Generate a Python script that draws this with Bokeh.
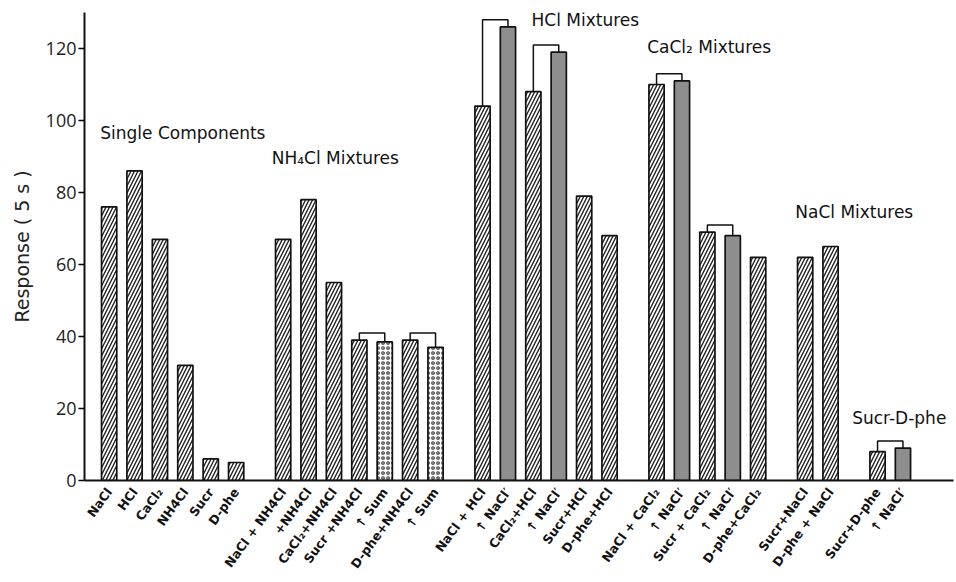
from bokeh.plotting import figure
from bokeh.models import ColumnDataSource, FixedTicker, Range1d, Label
from bokeh.embed import file_html
from bokeh.resources import INLINE

# ---- data -----------------------------------------------------------------
group_titles = ["Single Components", "NH₄Cl Mixtures", "HCl Mixtures",
                "CaCl₂ Mixtures", "NaCl Mixtures", "Sucr-D-phe"]

single_labels = ["NaCl", "HCl", "CaCl₂", "NH4Cl", "Sucr", "D-phe"]
single_values = [76, 86, 67, 32, 6, 5]
single_kinds = ["obs", "obs", "obs", "obs", "obs", "obs"]

nh4cl_labels = ["NaCl + NH4Cl", "+NH4Cl", "CaCl₂+NH4Cl", "Sucr +NH4Cl",
                "↑ Sum", "D-phe+NH4Cl", "↑ Sum"]
nh4cl_values = [67, 78, 55, 39, 38.5, 39, 37]
nh4cl_kinds = ["obs", "obs", "obs", "obs", "sum", "obs", "sum"]

hcl_labels = ["NaCl + HCl", "↑ NaCl′", "CaCl₂+HCl", "↑ NaCl′",
              "Sucr+HCl", "D-phe+HCl"]
hcl_values = [104, 126, 108, 119, 79, 68]
hcl_kinds = ["obs", "pred", "obs", "pred", "obs", "obs"]

cacl2_labels = ["NaCl + CaCl₂", "↑ NaCl′", "Sucr + CaCl₂", "↑ NaCl′",
                "D-phe+CaCl₂"]
cacl2_values = [110, 111, 69, 68, 62]
cacl2_kinds = ["obs", "pred", "obs", "pred", "obs"]

nacl_labels = ["Sucr+NaCl", "D-phe + NaCl"]
nacl_values = [62, 65]
nacl_kinds = ["obs", "obs"]

sd_labels = ["Sucr+D-phe", "↑ NaCl′"]
sd_values = [8, 9]
sd_kinds = ["obs", "pred"]

y_ticks = [0, 20, 40, 60, 80, 100, 120]

# ---- layout settings --------------------------------------------------------
SLOT = 20          # distance between neighbouring bars
GROUP_STEP = 37    # distance between last bar of a group and first of the next
BAR_W = 12
BRACKET_GAP = 2    # how far a bracket rises above the taller bar
# title placement: offset from first bar (in slots) and height (response units)
title_dx = [-0.35, -0.45, 1.93, -0.37, -0.39, -1.0]
title_y = [96.5, 89.5, 128.0, 120.5, 74.5, 17.5]

groups = [
    (single_labels, single_values, single_kinds),
    (nh4cl_labels, nh4cl_values, nh4cl_kinds),
    (hcl_labels, hcl_values, hcl_kinds),
    (cacl2_labels, cacl2_values, cacl2_kinds),
    (nacl_labels, nacl_values, nacl_kinds),
    (sd_labels, sd_values, sd_kinds),
]

xs, tops, kinds, labels, group_first = [], [], [], [], []
pos = 0
for gi, (lab, val, knd) in enumerate(groups):
    if gi > 0:
        pos += GROUP_STEP - SLOT
    group_first.append(pos)
    for l, v, k in zip(lab, val, knd):
        xs.append(pos)
        tops.append(v)
        kinds.append(k)
        labels.append(l)
        pos += SLOT
last_x = xs[-1]


def subset(kind):
    idx = [i for i, k in enumerate(kinds) if k == kind]
    return ColumnDataSource(dict(x=[xs[i] for i in idx], top=[tops[i] for i in idx]))


p = figure(width=956, height=582, output_backend="svg", toolbar_location=None,
           x_range=Range1d(-19.4, last_x + 39.8), y_range=Range1d(0, 130),
           min_border_left=84, min_border_right=3, min_border_top=12,
           min_border_bottom=102)
p.outline_line_color = None
p.grid.visible = False
p.background_fill_color = "white"
p.border_fill_color = "white"

# observed mixtures / single components: hatched
p.vbar(x="x", top="top", width=BAR_W, source=subset("obs"),
       fill_color="white", line_color="#111111", line_width=1.7,
       hatch_pattern="/", hatch_color="#222222", hatch_scale=7, hatch_weight=1.4)
# summed responses: stippled
p.vbar(x="x", top="top", width=BAR_W, source=subset("sum"),
       fill_color="white", line_color="#111111", line_width=1.7,
       hatch_pattern="o", hatch_color="#333333", hatch_scale=5, hatch_weight=1.2)
# NaCl-equivalent predictions: solid grey
p.vbar(x="x", top="top", width=BAR_W, source=subset("pred"),
       fill_color="#8e8e8e", line_color="#111111", line_width=1.7)

# brackets linking each comparison bar to the mixture on its left
bx, by = [], []
for i, k in enumerate(kinds):
    if k != "obs":
        h = max(tops[i - 1], tops[i]) + BRACKET_GAP
        bx.append([xs[i - 1], xs[i - 1], xs[i], xs[i]])
        by.append([tops[i - 1], h, h, tops[i]])
p.multi_line(bx, by, line_color="#111111", line_width=1.5)

# group titles
for gi, title in enumerate(group_titles):
    p.add_layout(Label(x=group_first[gi] + title_dx[gi] * SLOT, y=title_y[gi],
                       text=title, text_font="DejaVu Sans", text_font_size="17px",
                       text_color="#111111", text_baseline="middle",
                       text_align="left"))

# axes
p.xaxis.ticker = FixedTicker(ticks=xs)
p.xaxis.major_label_overrides = {x: l for x, l in zip(xs, labels)}
p.xaxis.major_label_orientation = 0.94
p.xaxis.major_label_text_font = "DejaVu Sans"
p.xaxis.major_label_text_font_size = "12.5px"
p.xaxis.major_label_text_font_style = "bold"
p.xaxis.major_label_text_color = "#111111"
p.xaxis.major_label_standoff = 3
p.xaxis.major_tick_line_color = None
p.xaxis.minor_tick_line_color = None
p.xaxis.axis_line_width = 2
p.xaxis.axis_line_color = "#111111"

p.yaxis.ticker = FixedTicker(ticks=y_ticks)
p.yaxis.axis_label = "Response ( 5 s )"
p.yaxis.axis_label_text_font = "DejaVu Sans"
p.yaxis.axis_label_text_font_size = "19px"
p.yaxis.axis_label_text_font_style = "normal"
p.yaxis.axis_label_text_color = "#222222"
p.yaxis.axis_label_standoff = 10
p.yaxis.major_label_text_font = "Open Sans"
p.yaxis.major_label_text_font_size = "18px"
p.yaxis.major_label_text_color = "#222222"
p.yaxis.major_label_standoff = 2
p.yaxis.major_tick_out = 6
p.yaxis.major_tick_in = 0
p.yaxis.major_tick_line_width = 1.5
p.yaxis.minor_tick_line_color = None
p.yaxis.axis_line_width = 2
p.yaxis.axis_line_color = "#111111"

open("out.html", "w").write(file_html(p, INLINE))
